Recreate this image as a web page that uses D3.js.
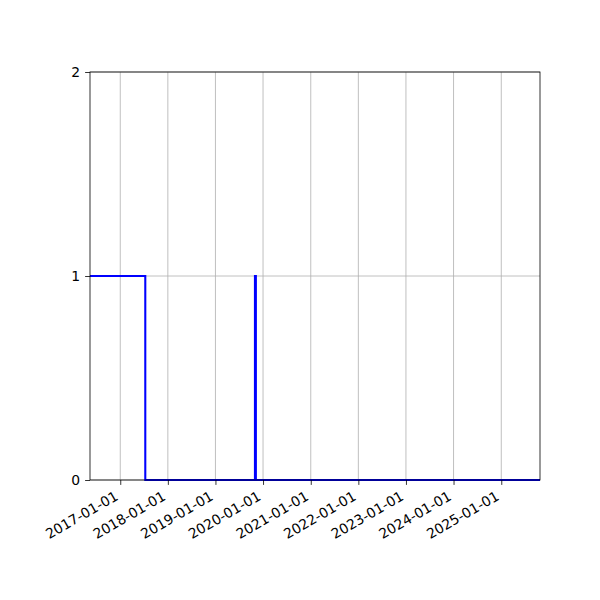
<!DOCTYPE html>
<html>
<head>
<meta charset="utf-8">
<script src="https://cdn.jsdelivr.net/npm/d3@7"></script>
<style>
    body { margin: 0; background: #ffffff; }
    text { font-family: "DejaVu Sans", sans-serif; font-size: 13.9px; fill: #000000; }
</style>
</head>
<body>
<script>
// step data (value holds until the next date)
var stepDates  = ["2016-05-14", "2017-07-12", "2019-10-31", "2019-11-07", "2025-10-25"];
var stepValues = [1, 0, 1, 0, 0];
var yTicks     = [0, 1, 2];
var xTickYears = [2017, 2018, 2019, 2020, 2021, 2022, 2023, 2024, 2025];

var parse = d3.timeParse("%Y-%m-%d");
var fmt = d3.timeFormat("%Y-%m-%d");

var points = stepDates.map(function (d, i) { return { date: parse(d), value: stepValues[i] }; });

// plot area in pixels
var plotL = 90, plotR = 540, plotT = 72, plotB = 480;

var svg = d3.select("body").append("svg")
    .attr("width", 600)
    .attr("height", 600);

var x = d3.scaleTime()
    .domain(d3.extent(points, function (d) { return d.date; }))
    .range([plotL, plotR]);

var y = d3.scaleLinear()
    .domain([0, 2])
    .range([plotB, plotT]);

var xTicks = xTickYears.map(function (yr) { return new Date(yr, 0, 1); });

// grid
svg.append("g").selectAll("line").data(xTicks).enter().append("line")
    .attr("x1", function (d) { return x(d); })
    .attr("x2", function (d) { return x(d); })
    .attr("y1", plotT).attr("y2", plotB)
    .style("stroke", "#b0b0b0").style("stroke-width", 0.8);

svg.append("g").selectAll("line").data(yTicks).enter().append("line")
    .attr("x1", plotL).attr("x2", plotR)
    .attr("y1", function (d) { return y(d); })
    .attr("y2", function (d) { return y(d); })
    .style("stroke", "#b0b0b0").style("stroke-width", 0.8);

// step line
var line = d3.line()
    .curve(d3.curveStepAfter)
    .x(function (d) { return x(d.date); })
    .y(function (d) { return y(d.value); });

svg.append("path")
    .datum(points)
    .attr("d", line)
    .style("fill", "none")
    .style("stroke", "#0000ff")
    .style("stroke-width", 2.08);

// axes
var xAxis = d3.axisBottom(x).tickValues(xTicks).tickFormat(fmt).tickSize(4.9).tickPadding(4.9);
var gx = svg.append("g").attr("transform", "translate(0," + plotB + ")").call(xAxis);
gx.select(".domain").remove();
gx.selectAll("line").style("stroke", "#000").style("stroke-width", 0.8);
gx.selectAll("text")
    .attr("font-size", null).attr("font-family", null)
    .attr("dy", null).attr("y", null)
    .style("text-anchor", "end")
    .attr("transform", "translate(-1.7,19) rotate(-30)");

var yAxis = d3.axisLeft(y).tickValues(yTicks).tickFormat(d3.format("d")).tickSize(4.9).tickPadding(4.9);
var gy = svg.append("g").attr("transform", "translate(" + plotL + ",0)").call(yAxis);
gy.select(".domain").remove();
gy.selectAll("line").style("stroke", "#000").style("stroke-width", 0.8);
gy.selectAll("text").attr("font-size", null).attr("font-family", null);

// spines
svg.append("rect")
    .attr("x", plotL).attr("y", plotT)
    .attr("width", plotR - plotL).attr("height", plotB - plotT)
    .style("fill", "none").style("stroke", "#000").style("stroke-width", 0.8);
</script>
</body>
</html>
